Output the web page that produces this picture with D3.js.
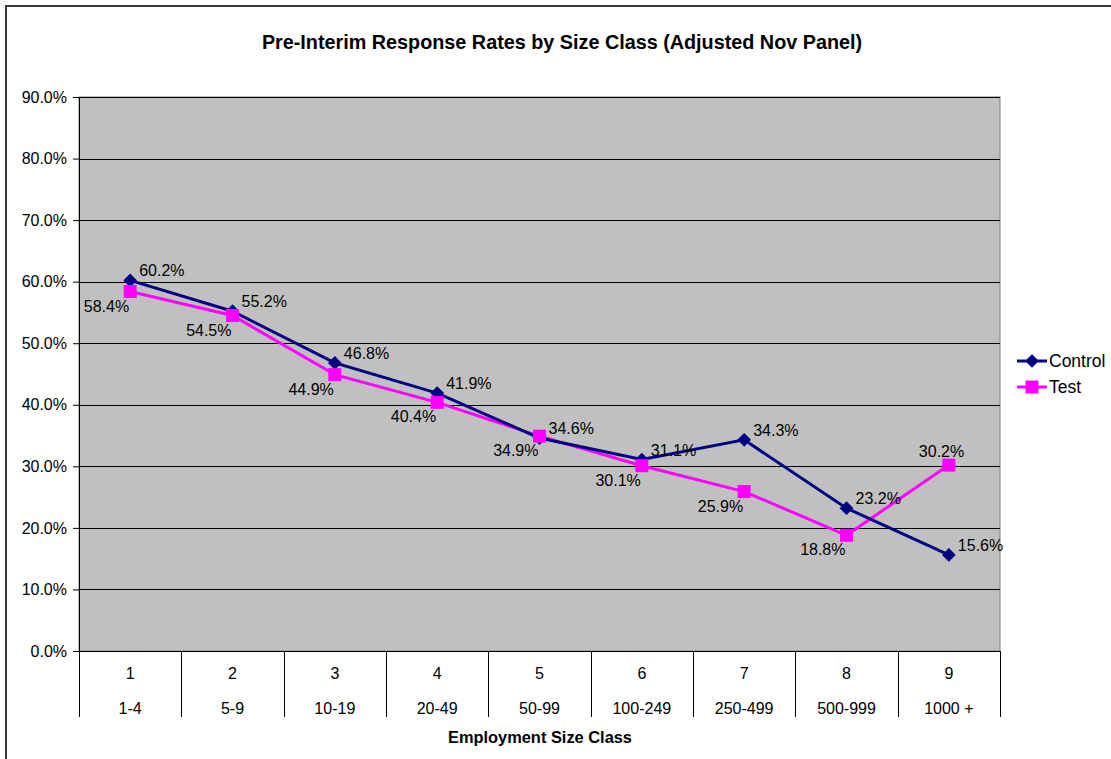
<!DOCTYPE html>
<html><head><meta charset="utf-8">
<script src="https://cdn.jsdelivr.net/npm/d3@7"></script>
<style>body{margin:0;background:#fff;}svg{display:block;font-family:Arial,"Liberation Sans",sans-serif;}</style>
</head><body>
<svg id="c" width="1111" height="759"></svg>
<script>
const sizeClassNumbers = ["1","2","3","4","5","6","7","8","9"];
const sizeClassRanges = ["1-4","5-9","10-19","20-49","50-99","100-249","250-499","500-999","1000 +"];
const controlRates = [60.2, 55.2, 46.8, 41.9, 34.6, 31.1, 34.3, 23.2, 15.6];
const testRates = [58.4, 54.5, 44.9, 40.4, 34.9, 30.1, 25.9, 18.8, 30.2];
const yTicks = [0,10,20,30,40,50,60,70,80,90];
const chartTitle = "Pre-Interim Response Rates by Size Class (Adjusted Nov Panel)";
const xTitle = "Employment Size Class";

const svg = d3.select("#c");
const L = 79, R = 1000, T = 97, B = 651;

// chart area border
svg.append("rect").attr("x",6).attr("y",6).attr("width",1200).attr("height",800)
  .attr("fill","#fff").attr("stroke","#3a3a3a").attr("stroke-width",2);

const x = d3.scaleBand().domain(sizeClassNumbers).range([L,R]).padding(0);
const y = d3.scaleLinear().domain([0,90]).range([B,T]);

// plot area
svg.append("rect").attr("x",L).attr("y",T).attr("width",R-L).attr("height",B-T)
  .attr("fill","#C0C0C0").attr("stroke","#808080").attr("stroke-width",1);

// gridlines
svg.append("g").selectAll("line").data(yTicks.filter(d=>d>0)).join("line")
  .attr("x1",L).attr("x2",R).attr("y1",d=>Math.round(y(d))+0.5).attr("y2",d=>Math.round(y(d))+0.5)
  .attr("stroke","#000").attr("stroke-width",1);

// y axis
const yAxis = d3.axisLeft(y).tickValues(yTicks).tickFormat(d=>d.toFixed(1)+"%").tickSize(6).tickPadding(6);
const gy = svg.append("g").attr("transform",`translate(${L},0)`).call(yAxis);
gy.select(".domain").attr("stroke","#000");
gy.selectAll(".tick line").attr("stroke","#000");
gy.selectAll("text").attr("font-size",16).attr("fill","#000").attr("font-family","Arial, 'Liberation Sans', sans-serif");

// x axis line
svg.append("line").attr("x1",L-6).attr("x2",R).attr("y1",B+0.5).attr("y2",B+0.5).attr("stroke","#000");
// category dividers
const bounds = sizeClassNumbers.map(d=>x(d)).concat([R]);
svg.append("g").selectAll("line").data(bounds).join("line")
  .attr("x1",d=>Math.round(d)+0.5).attr("x2",d=>Math.round(d)+0.5).attr("y1",B).attr("y2",717)
  .attr("stroke","#000");
// category labels
svg.append("g").selectAll("text").data(sizeClassNumbers).join("text")
  .attr("x",d=>x(d)+x.bandwidth()/2).attr("y",679).attr("text-anchor","middle")
  .attr("font-size",16).text(d=>d);
svg.append("g").selectAll("text").data(sizeClassRanges).join("text")
  .attr("x",(d,i)=>x(sizeClassNumbers[i])+x.bandwidth()/2).attr("y",714).attr("text-anchor","middle")
  .attr("font-size",16).text(d=>d);

// titles
svg.append("text").attr("x",562).attr("y",49).attr("text-anchor","middle")
  .attr("font-size",19.8).attr("font-weight","bold").text(chartTitle);
svg.append("text").attr("x",540).attr("y",743).attr("text-anchor","middle")
  .attr("font-size",16.4).attr("font-weight","bold").text(xTitle);

const cx = i => x(sizeClassNumbers[i]) + x.bandwidth()/2;
const line = d3.line().x((d,i)=>cx(i)).y(d=>y(d));

// Test series
svg.append("path").datum(testRates).attr("d",line).attr("fill","none")
  .attr("stroke","#FF00FF").attr("stroke-width",3);
// Control series
svg.append("path").datum(controlRates).attr("d",line).attr("fill","none")
  .attr("stroke","#000080").attr("stroke-width",3);

const diamond = d3.symbol().type(d3.symbolDiamond2).size(120);
svg.append("g").selectAll("path").data(controlRates).join("path")
  .attr("d",diamond).attr("transform",(d,i)=>`translate(${cx(i)},${y(d)})`)
  .attr("fill","#000080");
svg.append("g").selectAll("rect").data(testRates).join("rect")
  .attr("x",(d,i)=>cx(i)-6.5).attr("y",d=>y(d)-6.5).attr("width",13).attr("height",13)
  .attr("fill","#FF00FF");

// labels
svg.append("g").selectAll("text").data(controlRates).join("text")
  .attr("x",(d,i)=>cx(i)+9).attr("y",d=>y(d)-4)
  .attr("font-size",16).text(d=>d.toFixed(1)+"%");
svg.append("g").selectAll("text").data(testRates).join("text")
  .attr("x",(d,i)=> d>controlRates[i]+2 ? cx(i)-30 : cx(i)-1)
  .attr("y",(d,i)=> d>controlRates[i]+2 ? y(d)-8 : y(d)+20)
  .attr("text-anchor",(d,i)=> d>controlRates[i]+2 ? "start" : "end")
  .attr("font-size",16).text(d=>d.toFixed(1)+"%");

// legend
const lg = svg.append("g");
const legendItems = [{name:"Control", color:"#000080", y:361, shape:"diamond"},{name:"Test", color:"#FF00FF", y:387, shape:"square"}];
legendItems.forEach(it=>{
  lg.append("line").attr("x1",1017).attr("x2",1047).attr("y1",it.y).attr("y2",it.y)
    .attr("stroke",it.color).attr("stroke-width",3);
  if(it.shape==="diamond"){
    lg.append("path").attr("d",diamond).attr("transform",`translate(1032,${it.y})`).attr("fill",it.color);
  } else {
    lg.append("rect").attr("x",1032-6.5).attr("y",it.y-6.5).attr("width",13).attr("height",13).attr("fill",it.color);
  }
  lg.append("text").attr("x",1049).attr("y",it.y+6).attr("font-size",17.5).text(it.name);
});
</script>
</body></html>
